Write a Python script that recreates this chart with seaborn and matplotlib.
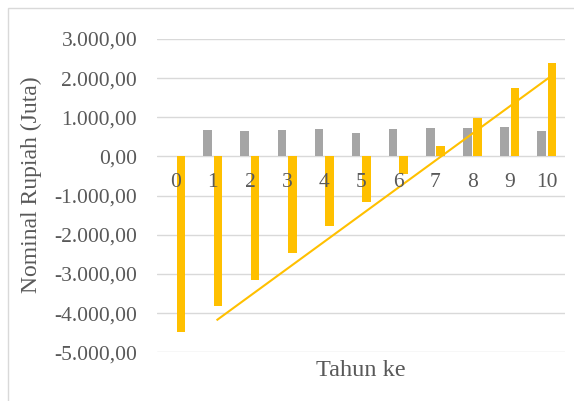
import numpy as np
import pandas as pd
import matplotlib
matplotlib.use("Agg")
import matplotlib.pyplot as plt
import seaborn as sns
from matplotlib.patches import Rectangle
from matplotlib.ticker import FuncFormatter

# ---- data ----
tahun = list(range(11))
tahun_labels = [str(t) for t in tahun]
arus_kas = [0, 677, 659, 677, 695, 608, 710, 728, 728, 746, 651]
kumulatif = [-4490, -3818, -3154, -2465, -1767, -1154, -447, 268, 991, 1742, 2395]
trend_tahun = [1, 10]
trend_nilai = [-4183, 2040]
y_ticks = [3000, 2000, 1000, 0, -1000, -2000, -3000, -4000, -5000]

seri_names = ["Arus Kas Bersih", "Arus Kas Kumulatif"]
colors = ["#A5A5A5", "#FFC000"]
text_color = "#595959"
grid_color = "#D9D9D9"

df = pd.DataFrame({
    "Tahun": tahun_labels * 2,
    "Nilai": arus_kas + kumulatif,
    "Seri": [seri_names[0]] * len(tahun) + [seri_names[1]] * len(tahun),
})

sns.set_theme(style="white")
plt.rcParams["font.family"] = ["Liberation Serif", "DejaVu Serif"]

fig = plt.figure(figsize=(5.74, 4.01), dpi=100)
ax = fig.add_axes([157.2 / 574, 1 - 352.3 / 401, (565.3 - 157.2) / 574, (352.3 - 39) / 401])

for v in y_ticks:
    ax.axhline(v, color=grid_color, lw=1.0, zorder=0.5)

sns.barplot(data=df, x="Tahun", y="Nilai", hue="Seri", order=tahun_labels,
            hue_order=seri_names, palette=colors, width=0.56, gap=0.18,
            saturation=1, legend=False, errorbar=None, ax=ax, zorder=1,
            linewidth=0, edgecolor="none")

ax.plot(np.array(trend_tahun) + 0.1, trend_nilai, color=colors[1], lw=1.5,
        solid_capstyle="butt", zorder=2)

ax.set_xlim(-0.5, 10.5)
ax.set_ylim(-5000, 3000)
ax.set_yticks(y_ticks)


def fmt(v, pos=None):
    s = f"{v:,.2f}"
    return s.replace(",", "X").replace(".", ",").replace("X", ".")


ax.yaxis.set_major_formatter(FuncFormatter(fmt))
ax.set_xticks(range(len(tahun_labels)))
ax.set_xticklabels(tahun_labels)
ax.spines["bottom"].set_position(("data", 0))
for s in ax.spines.values():
    s.set_visible(False)
ax.set_axisbelow(False)
ax.tick_params(axis="x", length=0, pad=12, labelsize=15.5, labelcolor=text_color)
ax.tick_params(axis="y", length=0, pad=14.4, labelsize=15.5, labelcolor=text_color)
ax.set_xlabel("")
ax.set_ylabel("")

fig.text(31 / 574, 1 - 185 / 401, "Nominal Rupiah (Juta)", rotation=90,
         ha="center", va="center", fontsize=17, color=text_color)
fig.text(361 / 574, 1 - 370 / 401, "Tahun ke", ha="center", va="center",
         fontsize=17.5, color=text_color)

fig.patches.append(Rectangle((8 / 574, -0.1), 1.2, 1.1 - 8 / 401,
                             transform=fig.transFigure, fill=False,
                             edgecolor=grid_color, lw=1.0))

fig.savefig("out.png", dpi=100)
